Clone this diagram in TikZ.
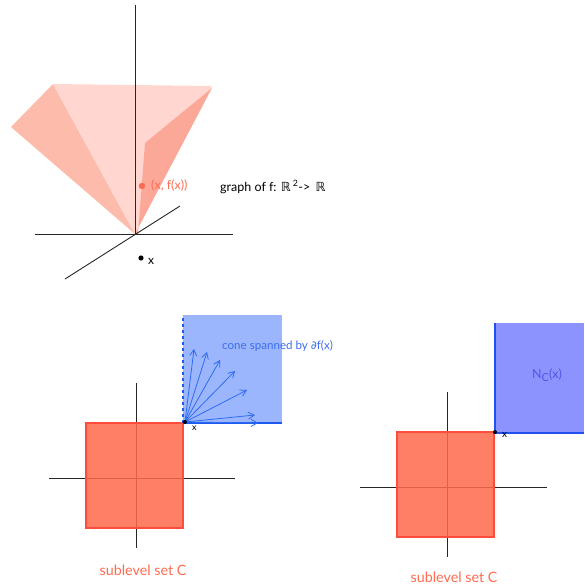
\documentclass[tikz,border=0pt]{standalone}
\usepackage{fontspec}
\setmainfont{Lato}
\newfontfamily\djfont{DejaVu Sans}
\usetikzlibrary{arrows.meta}
\definecolor{leftface}{HTML}{FDBBAC}
\definecolor{midface}{HTML}{FFD6D0}
\definecolor{rightface}{HTML}{FCA898}
\definecolor{ptred}{HTML}{FA6B52}
\definecolor{sqfill}{HTML}{FF694B}
\definecolor{sqedge}{HTML}{FF4D3D}
\definecolor{conefill}{HTML}{9CB6FD}
\definecolor{coneedge}{HTML}{1E5AF0}
\definecolor{ncfill}{HTML}{8C93FE}
\definecolor{ncedge}{HTML}{2250F0}
\definecolor{arrowblue}{HTML}{2D6BF5}
\definecolor{conelabel}{HTML}{3D6EF0}
\definecolor{nclabel}{HTML}{5256E8}
\definecolor{sublabel}{HTML}{FF6B4F}
\tikzset{
  axis/.style={draw=black!85, line width=0.9pt},
  sqbox/.style={fill=sqfill, fill opacity=0.85, draw=sqedge, line width=1.8pt},
  gen/.style={draw=arrowblue, line width=0.8pt, -{Straight Barb[length=6pt,width=7pt]}},
  lbl/.style={inner sep=0pt, anchor=west},
}
\begin{document}
\begin{tikzpicture}[x=1pt,y=-1pt]
\useasboundingbox (0,0) rectangle (584,588);
% ---------- top: graph ----------
\coordinate (O) at (135,234);
\fill[leftface] (11,127) -- (53,84) -- (O) -- cycle;
\fill[midface] (53,84) -- (212,86) -- (O) -- cycle;
\fill[rightface] (212,88) -- (145,143) -- (138,234) -- (O) -- cycle;
\draw[axis] (135,5) -- (O);
\draw[axis] (35,234) -- (233,234);
\draw[axis] (65,279) -- (180,206);
\fill[ptred] (142,186) circle (3.2pt);
\node[lbl, text=ptred, font=\fontsize{12.5}{15}\selectfont] (fx) at (151,186) {(x, f(x))};
\node[lbl, font=\fontsize{12.5}{15}\selectfont] (graph) at (220,187) {graph of f: {\djfont ℝ}\,\textsuperscript{2}-> \,{\djfont ℝ}};
\fill[black] (141,258) circle (2.6pt);
\node[lbl, font=\fontsize{12}{14}\selectfont] (xa) at (148,261) {x};
% ---------- bottom left ----------
\draw[axis] (136,383) -- (136,548);
\draw[axis] (49,478) -- (235,478);
\draw[sqbox] (86,423) rectangle (183,528);
\fill[conefill] (183,315) rectangle (282,423);
\draw[coneedge, line width=1.2pt, dashed] (183,423) -- (183,315);
\draw[coneedge, line width=1.2pt] (183,423) -- (282,423);
\coordinate (P) at (185,422);
\coordinate (g1) at (194,349);
\coordinate (g2) at (207,352);
\coordinate (g3) at (220,360);
\coordinate (g4) at (235,371);
\coordinate (g5) at (247,390);
\coordinate (g6) at (255,415);
\coordinate (g7) at (258,423);
\foreach \g in {g1,g2,g3,g4,g5,g6,g7} \draw[gen] (P) -- (\g);
\fill[black] (P) circle (2pt);
\node[lbl, font=\fontsize{9}{11}\selectfont] (xb) at (192,428) {x};
\node[lbl, text=conelabel, font=\fontsize{11.6}{14}\selectfont] (cone) at (222,346) {cone spanned by {\djfont ∂}f(x)};
\node[text=sublabel, font=\fontsize{14.3}{17}\selectfont, inner sep=0pt] (subA) at (143,570) {sublevel set C};
% ---------- bottom right ----------
\draw[axis] (447,392) -- (447,557);
\draw[axis] (360,487) -- (547,487);
\draw[sqbox] (397,432) rectangle (494,537);
\fill[ncfill] (495,323) rectangle (584,433);
\draw[ncedge, line width=1.2pt] (495,323) -- (495,433) -- (584,433);
\fill[black] (495,432) circle (2pt);
\node[lbl, font=\fontsize{10}{12}\selectfont] (xc) at (502,435) {x};
\node[text=nclabel, font=\fontsize{12.5}{15}\selectfont, inner sep=0pt] (nc) at (547,375) {N\raisebox{-3.5pt}{\fontsize{11}{13}\selectfont C}(x)};
\node[text=sublabel, font=\fontsize{14.3}{17}\selectfont, inner sep=0pt] (subB) at (454,577) {sublevel set C};
\end{tikzpicture}
\end{document}
